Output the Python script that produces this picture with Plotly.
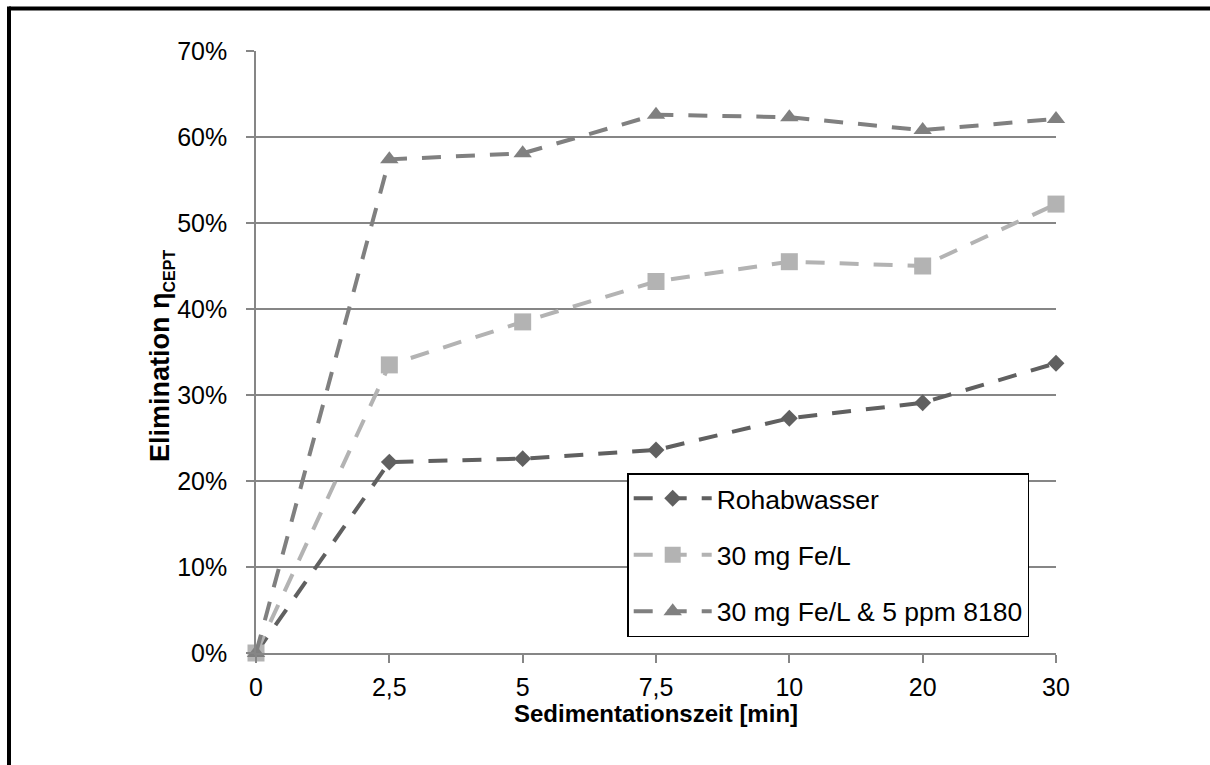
import plotly.graph_objects as go

categories = ["0", "2,5", "5", "7,5", "10", "20", "30"]
rohabwasser = [0.0, 0.222, 0.226, 0.236, 0.273, 0.291, 0.337]
fe30 = [0.0, 0.335, 0.385, 0.432, 0.455, 0.450, 0.522]
fe30_ppm5 = [0.0, 0.574, 0.581, 0.626, 0.623, 0.608, 0.621]

series_names = ["Rohabwasser", "30 mg Fe/L", "30 mg Fe/L & 5 ppm 8180"]
y_ticks = [0, 0.1, 0.2, 0.3, 0.4, 0.5, 0.6, 0.7]
x_title = "<b>Sedimentationszeit [min]</b>"
y_title = "<b>Elimination η<sub><span style='font-size:16px'>CEPT</span></sub></b>"

FONT = "Liberation Sans, Arial, sans-serif"

styles = [
    dict(color="#606060", symbol="diamond", size=13),
    dict(color="#b3b3b3", symbol="square", size=17),
    dict(color="#808080", symbol="triangle-up", size=16),
]

fig = go.Figure()
for name, vals, st, grp in zip(series_names, [rohabwasser, fe30, fe30_ppm5], styles, ["a", "b", "c"]):
    fig.add_trace(go.Scatter(
        x=categories, y=vals, name=name, mode="lines+markers",
        legendgroup=grp,
        line=dict(color=st["color"], width=4, dash="19px,15px"),
        marker=dict(color=st["color"], symbol=st["symbol"], size=st["size"], line=dict(width=0)),
        cliponaxis=False,
    ))

fig.update_layout(
    width=1210, height=765,
    margin=dict(l=256, r=154, t=51, b=112),
    paper_bgcolor="white", plot_bgcolor="white",
    font=dict(family=FONT, size=24, color="black"),
    showlegend=True,
    legend=dict(
        x=0.464, y=0.299, xanchor="left", yanchor="top",
        bgcolor="white", bordercolor="black", borderwidth=1.5,
        font=dict(family=FONT, size=26.5, color="black"),
        tracegroupgap=19,
        itemwidth=78,
    ),
    xaxis=dict(
        type="category", categoryorder="array", categoryarray=categories,
        range=[0, 6],
        showline=True, linecolor="#868686", linewidth=1.5,
        ticks="outside", ticklen=8, tickcolor="#868686", tickwidth=1.5,
        showgrid=False, zeroline=False,
        tickfont=dict(family=FONT, size=25, color="black"),
        ticklabelstandoff=3,
    ),
    yaxis=dict(
        range=[0, 0.7], tickvals=y_ticks, tickformat=".0%",
        showline=True, linecolor="#868686", linewidth=1.5,
        ticks="outside", ticklen=8, tickcolor="#868686", tickwidth=1.5,
        showgrid=True, gridcolor="#868686", gridwidth=1.5,
        zeroline=False,
        tickfont=dict(family=FONT, size=25, color="black"),
        ticklabelstandoff=14,
    ),
    annotations=[
        dict(text=x_title, xref="paper", yref="paper", x=0.5, y=-0.101,
             xanchor="center", yanchor="middle", showarrow=False,
             font=dict(family=FONT, size=24, color="black")),
        dict(text=y_title, xref="paper", yref="paper", x=-0.1175, y=0.4934,
             xanchor="center", yanchor="middle", showarrow=False, textangle=-90,
             font=dict(family=FONT, size=27, color="black")),
    ],
    shapes=[
        dict(type="line", xref="paper", yref="paper", x0=-0.30875, x1=1.25, y0=1.0706, y1=1.0706,
             line=dict(color="black", width=4)),
        dict(type="line", xref="paper", yref="paper", x0=-0.30875, x1=-0.30875, y0=1.0739, y1=-0.25,
             line=dict(color="black", width=4)),
    ],
)

fig.write_html("out.html")
